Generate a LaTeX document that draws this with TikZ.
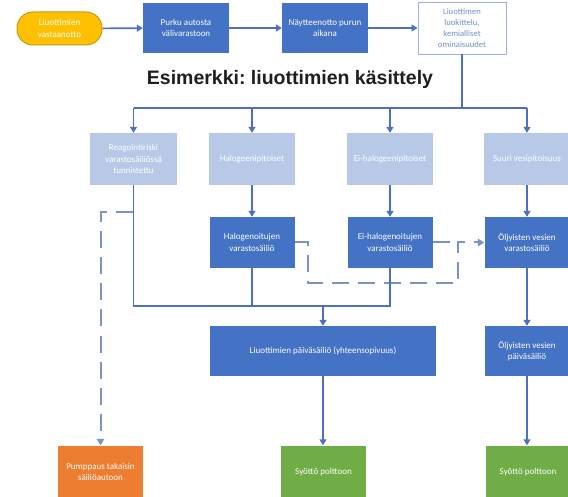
\documentclass[tikz,border=0pt]{standalone}
\usepackage{fontspec}
\setmainfont{Carlito}
\newfontfamily\titlefont{Liberation Sans}
\usetikzlibrary{arrows.meta}
\definecolor{dblue}{HTML}{4472C4}
\definecolor{lblue}{HTML}{B7C9E6}
\definecolor{lineblue}{HTML}{4E70C2}
\definecolor{dashblue}{HTML}{7D93C0}
\definecolor{pillfill}{HTML}{FFC000}
\definecolor{pilldraw}{HTML}{C49A1C}
\definecolor{orangebox}{HTML}{ED7D31}
\definecolor{greenbox}{HTML}{70AD47}
\definecolor{luokdraw}{HTML}{9CB2DC}
\definecolor{luoktext}{HTML}{7290C8}
\frenchspacing
\begin{document}
\begin{tikzpicture}[x=1pt,y=-1pt,
  box/.style={draw=none, fill=dblue, text=white, minimum width=86pt, minimum height=50pt,
    inner sep=1pt, align=center, font=\fontsize{9}{11.5}\selectfont},
  lightbox/.style={box, fill=lblue},
  wire/.style={draw=lineblue, line width=1.6pt},
  conn/.style={wire, -{Triangle[width=7pt,length=6pt]}},
  dashline/.style={draw=dashblue, line width=2pt, dash pattern=on 17pt off 9pt},
  dashconn/.style={dashline, -{Triangle[width=7.5pt,length=6.5pt]}}]
\useasboundingbox (0,0) rectangle (568,497);
\fill[white] (0,0) rectangle (568,497);

% top row
\node[box, fill=pillfill, draw=pilldraw, line width=1pt, rounded corners=16pt,
  minimum width=85pt, minimum height=33pt] (start) at (59.5,28.5) {Liuottimien\\vastaanotto};
\node[box] (purku) at (186,28) {Purku autosta\\välivarastoon};
\node[box] (nayte) at (325,28) {Näytteenotto purun\\aikana};
\node[box, fill=white, draw=luokdraw, line width=0.9pt, text=luoktext, minimum width=88pt,
  minimum height=52pt, font=\fontsize{8.6}{11}\selectfont] (luok) at (462,28) {Liuottimen\\luokittelu,\\kemialliset\\ominaisuudet};

\draw[conn] (start) -- (purku);
\draw[conn] (purku) -- (nayte);
\draw[conn] (nayte) -- (luok);

% title
\node[font=\titlefont\bfseries\fontsize{19.5}{21}\selectfont, text=black!88, inner sep=0pt] (title) at (290,79) {Esimerkki: liuottimien käsittely};

% second row
\node[lightbox, minimum width=87pt, minimum height=52pt] (reag) at (133.5,159) {Reagointiriski\\varastosäiliössä\\tunnistettu};
\node[lightbox, minimum height=52pt] (halo) at (252,159) {Halogeenipitoiset};
\node[lightbox, minimum height=52pt] (eihalo) at (390,159) {Ei-halogeenipitoiset};
\node[lightbox, minimum height=52pt] (suuri) at (527,159) {Suuri vesipitoisuus};

\coordinate (br) at (462,108);
\draw[wire] (luok.south) -- (br);
\draw[wire] (reag.north |- br) -- (suuri.north |- br);
\draw[conn] (reag.north |- br) -- (reag.north);
\draw[conn] (halo.north |- br) -- (halo.north);
\draw[conn] (eihalo.north |- br) -- (eihalo.north);
\draw[conn] (suuri.north |- br) -- (suuri.north);

% third row
\node[box, minimum width=85pt, minimum height=51pt] (halostor) at (252,242.5) {Halogenoitujen\\varastosäiliö};
\node[box, minimum width=85pt, minimum height=51pt] (eihalostor) at (390,242.5) {Ei-halogenoitujen\\varastosäiliö};
\node[box, minimum width=85pt, minimum height=51pt] (olystor) at (527,242.5) {Öljyisten vesien\\varastosäiliö};

\draw[conn] (halo) -- (halostor);
\draw[conn] (eihalo) -- (eihalostor);
\draw[conn] (suuri) -- (olystor);

% dashed transfers
\coordinate (d1) at (308,283);
\coordinate (d2) at (458,283);
\draw[dashconn] (halostor.east) -| (d1) -- (d2) |- (olystor.west);
\draw[dashline] (eihalostor.east) -- (eihalostor.east -| d2);

% day tanks
\node[box, minimum width=226pt, minimum height=50pt] (day) at (323,351) {Liuottimien päiväsäiliö (yhteensopivuus)};
\node[box, minimum width=85pt, minimum height=50pt] (olyday) at (527,351) {Öljyisten vesien\\päiväsäiliö};

\coordinate (col) at (0,306);
\draw[wire] (reag.south) -- (reag.south |- col) -- (eihalostor.south |- col) -- (eihalostor.south);
\draw[wire] (halostor.south) -- (halostor.south |- col);
\draw[conn] (day.north |- col) -- (day.north);
\draw[conn] (olystor) -- (olyday);

% bottom row
\node[box, fill=orangebox, minimum width=85pt, minimum height=53pt] (pump) at (100.5,472) {Pumppaus takaisin\\säiliöautoon};
\node[box, fill=greenbox, minimum width=85pt, minimum height=53pt] (feed1) at (323.5,472) {Syöttö polttoon};
\node[box, fill=greenbox, minimum width=85pt, minimum height=53pt] (feed2) at (528,472) {Syöttö polttoon};

\draw[conn] (day.south) -- (day.south |- feed1.north);
\draw[conn] (olyday.south) -- (olyday.south |- feed2.north);

\coordinate (p0) at (133,212);
\draw[dashconn] (p0) -| (pump.north);
\end{tikzpicture}
\end{document}
